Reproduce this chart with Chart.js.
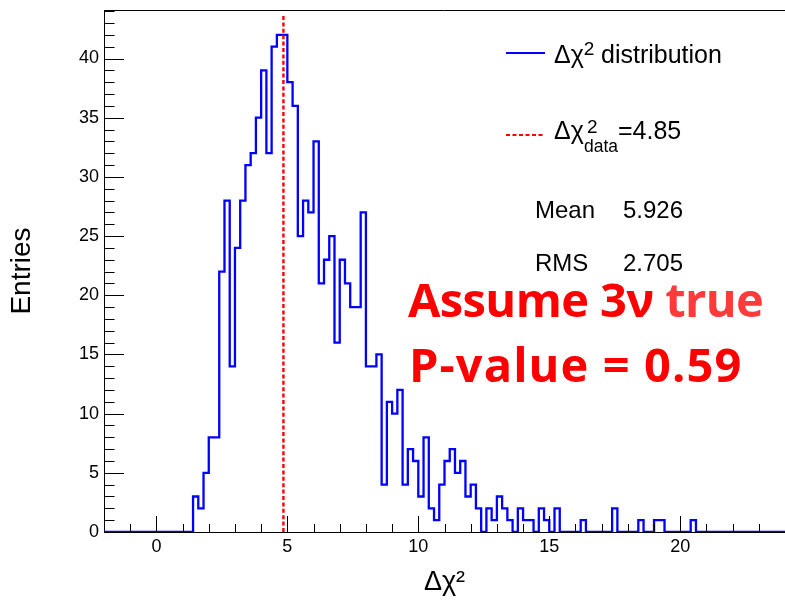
<!DOCTYPE html>
<html>
<head>
<meta charset="utf-8">
<script src="https://cdn.jsdelivr.net/npm/chart.js@4.4.0/dist/chart.umd.min.js"></script>
<style>
  html, body { margin: 0; padding: 0; background: #fff; }
  #wrap { width: 785px; height: 600px; }
</style>
</head>
<body>
<div id="wrap"><canvas id="chi2Chart" width="785" height="600"></canvas></div>
<script>
// toy-MC delta chi2 histogram: 0.2 wide bins, first non-empty bin starts at 1.4
const binWidth = 0.2;
const firstBinLow = 1.4;
const binCounts = [
  3, 2, 5, 8, 8, 22, 28, 14, 24, 28,
  31, 32, 35, 39, 32, 41, 42, 42, 38, 36,
  25, 28, 27, 33, 21, 23, 25, 16, 23, 21,
  19, 19, 27, 14, 14, 15, 4, 11, 10, 12,
  4, 7, 6, 3, 8, 2, 1, 4, 6, 7,
  5, 6, 3, 4, 2, 0, 2, 1, 3, 2,
  1, 0, 2, 1, 1, 0, 2, 1, 0, 2,
  0, 0, 0, 0, 1, 0, 0, 0, 0, 0,
  2, 0, 0, 0, 0, 1, 0, 0, 1, 1,
  0, 0, 0, 0, 0, 1
];
const xRange = [-2, 24];
const yRange = [0, 44.1];
const dataChi2 = 4.85;
const dataLineTop = 43.7;
const statLabels = ["Mean", "RMS"];
const statValues = ["5.926", "2.705"];

const SANS = "'Liberation Sans', Arial, sans-serif";
const BLUE = "rgb(0, 0, 255)";
const RED = "rgb(255, 0, 0)";

// histogram as a step line: left edges, closed back to zero on both sides
const histPoints = [{ x: xRange[0], y: 0 }];
binCounts.forEach((c, i) => {
  histPoints.push({ x: firstBinLow + i * binWidth, y: c });
});
histPoints.push({ x: firstBinLow + binCounts.length * binWidth, y: 0 });
histPoints.push({ x: xRange[1], y: 0 });

// text with optional super/subscript pieces, returns end x
function drawRich(ctx, parts, x, y) {
  parts.forEach((p) => {
    ctx.font = p.font;
    ctx.fillStyle = p.color || "#000";
    ctx.letterSpacing = p.spacing || "0px";
    const px = p.x !== undefined ? p.x : x;
    ctx.fillText(p.text, px, y + (p.dy || 0));
    if (!p.noAdvance) x = px + ctx.measureText(p.text).width + (p.gap || 0);
  });
  ctx.letterSpacing = "0px";
  return x;
}

const rootStyle = {
  id: "rootStyle",
  afterDraw(chart) {
    const ctx = chart.ctx;
    const area = chart.chartArea;
    const xs = chart.scales.x;
    const ys = chart.scales.y;
    ctx.save();

    // frame top and inward tick marks
    ctx.strokeStyle = "#000";
    ctx.lineWidth = 1;
    ctx.beginPath();
    ctx.moveTo(area.left, Math.round(area.top) + 0.5);
    ctx.lineTo(area.right, Math.round(area.top) + 0.5);
    for (let v = 1; v <= 44; v++) {
      const py = Math.round(ys.getPixelForValue(v)) + 0.5;
      const len = v % 5 === 0 ? 20 : 10.5;
      ctx.moveTo(area.left, py);
      ctx.lineTo(area.left + len, py);
    }
    for (let v = xRange[0] + 1; v < xRange[1]; v++) {
      const px = Math.round(xs.getPixelForValue(v)) + 0.5;
      const len = v % 5 === 0 ? 16 : 8;
      ctx.moveTo(px, area.bottom);
      ctx.lineTo(px, area.bottom - len);
    }
    ctx.stroke();

    // legend
    ctx.textAlign = "left";
    ctx.textBaseline = "alphabetic";
    ctx.lineWidth = 2;
    ctx.strokeStyle = BLUE;
    ctx.beginPath();
    ctx.moveTo(506, 53);
    ctx.lineTo(545, 53);
    ctx.stroke();
    drawRich(ctx, [
      { text: "Δχ", font: "25px " + SANS },
      { text: "2", font: "19px " + SANS, dy: -8, gap: 0 },
      { text: "distribution", font: "25px " + SANS, x: 601 }
    ], 554, 63);

    ctx.strokeStyle = RED;
    ctx.setLineDash([4, 2.5]);
    ctx.beginPath();
    ctx.moveTo(506, 135);
    ctx.lineTo(545, 135);
    ctx.stroke();
    ctx.setLineDash([]);
    drawRich(ctx, [
      { text: "Δχ", font: "25px " + SANS },
      { text: "2", font: "19px " + SANS, x: 587, dy: -6, noAdvance: true },
      { text: "data", font: "17.5px " + SANS, x: 584, dy: 13 },
      { text: "=4.85", font: "25px " + SANS, x: 618 }
    ], 554, 139);

    // statistics
    ctx.font = "24px " + SANS;
    ctx.fillStyle = "#000";
    statLabels.forEach((lab, i) => {
      const by = 218 + i * 53;
      ctx.fillText(lab, 535, by);
      ctx.fillText(statValues[i], 623, by);
    });

    // annotation
    const big = "bold 47px 'Open Sans', 'DejaVu Sans', sans-serif";
    drawRich(ctx, [
      { text: "Assume 3ν ", font: big, color: RED, spacing: "-0.6px" },
      { text: "true", font: big, color: "rgb(255, 58, 58)", spacing: "-0.6px" }
    ], 408, 317);
    drawRich(ctx, [
      { text: "P-value = 0.59", font: big, color: RED, spacing: "1.1px" }
    ], 409, 382);

    ctx.restore();
  }
};

const ctx = document.getElementById("chi2Chart").getContext("2d");
new Chart(ctx, {
  type: "line",
  data: {
    datasets: [
      {
        label: "Δχ²_data",
        data: [{ x: dataChi2, y: 0 }, { x: dataChi2, y: dataLineTop }],
        borderColor: RED,
        borderWidth: 2.4,
        borderDash: [4, 2.4],
        pointRadius: 0,
        fill: false,
      },
      {
        label: "Δχ² distribution",
        data: histPoints,
        borderColor: BLUE,
        borderWidth: 2.3,
        stepped: "before",
        pointRadius: 0,
        fill: false,
        tension: 0,
      },
    ],
  },
  options: {
    responsive: false,
    animation: false,
    devicePixelRatio: 1,
    layout: { padding: { top: 10, left: 0, right: 0, bottom: 0 } },
    plugins: {
      legend: { display: false },
      tooltip: { enabled: false },
    },
    scales: {
      x: {
        type: "linear",
        min: xRange[0],
        max: xRange[1],
        grid: { display: false, drawTicks: false },
        border: { display: true, color: "#000", width: 1 },
        ticks: {
          stepSize: 5,
          includeBounds: false,
          maxRotation: 0,
          padding: 4,
          color: "#000",
          font: { family: SANS, size: 18 },
        },
        title: {
          display: true,
          text: "Δχ²",
          color: "#000",
          font: { family: SANS, size: 27 },
          padding: { top: 0, bottom: 1 },
        },
        afterFit(scale) {
          scale.height = 68;
          scale.paddingLeft = 0;
          scale.paddingRight = 0;
        },
      },
      y: {
        type: "linear",
        min: yRange[0],
        max: yRange[1],
        grid: { display: false, drawTicks: false },
        border: { display: true, color: "#000", width: 1 },
        ticks: {
          stepSize: 5,
          includeBounds: false,
          padding: 5,
          color: "#000",
          font: { family: SANS, size: 18 },
        },
        title: {
          display: true,
          text: "Entries",
          color: "#000",
          font: { family: SANS, size: 28 },
          padding: { top: 5, bottom: 0 },
        },
        afterFit(scale) {
          scale.width = 104;
          scale.paddingTop = 0;
          scale.paddingBottom = 0;
        },
      },
    },
  },
  plugins: [rootStyle],
});
</script>
</body>
</html>
